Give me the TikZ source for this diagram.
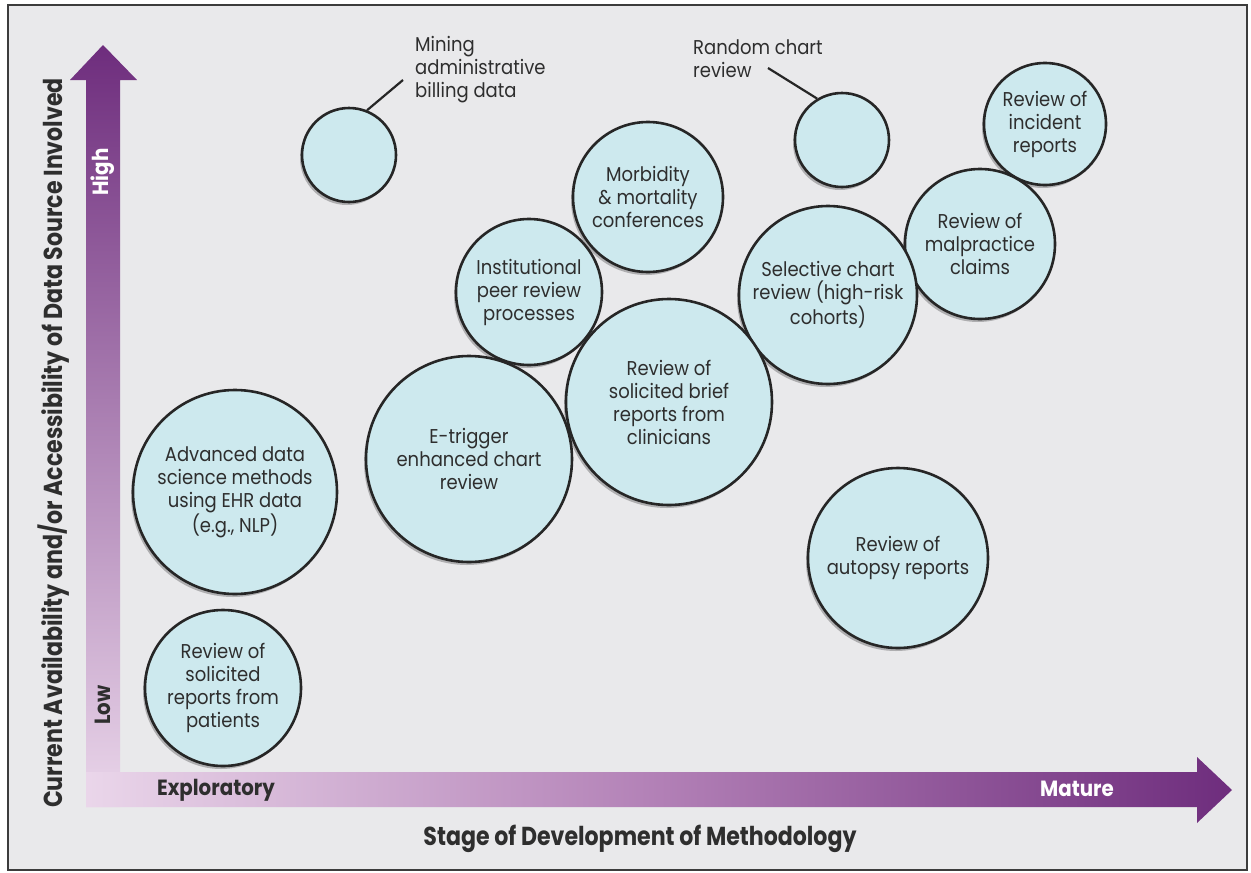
\documentclass[tikz,border=0pt]{standalone}
\usepackage{fontspec}
\setmainfont{Poppins}[FakeStretch=0.9]
\newfontfamily\titlefont{Poppins}[FakeStretch=0.85]
\usetikzlibrary{shadows}

\definecolor{bggray}{RGB}{233,233,235}
\definecolor{framegray}{RGB}{60,60,60}
\definecolor{bubblefill}{RGB}{205,233,238}
\definecolor{bubbleline}{RGB}{38,38,38}
\definecolor{inkgray}{RGB}{46,46,46}
\definecolor{plumdark}{RGB}{110,45,125}
\definecolor{plummid}{RGB}{178,128,182}
\definecolor{plumlight}{RGB}{234,214,234}

\begin{document}
\begin{tikzpicture}[x=1pt, y=-1pt,
    bubble/.style={circle, draw=bubbleline, line width=2.6pt, fill=bubblefill, text=inkgray,
        align=center, inner sep=0pt, font=\fontsize{20}{23}\selectfont,
        drop shadow={shadow xshift=-2pt, shadow yshift=-3pt, opacity=0.25, fill=black}},
    sidelabel/.style={anchor=north west, align=left, inner sep=0pt, text=inkgray,
        font=\fontsize{20}{23}\selectfont},
    axistitle/.style={inner sep=0pt, text=inkgray, font=\titlefont\bfseries\fontsize{26}{30}\selectfont},
    endlabel/.style={inner sep=0pt, font=\bfseries\fontsize{22}{26}\selectfont},
    leader/.style={draw=bubbleline, line width=2.2pt}]

    % Page and frame
    \useasboundingbox (0,0) rectangle (1251,873);
    \fill[white] (0,0) rectangle (1251,873);
    \draw[fill=bggray, draw=framegray, line width=2.5pt] (8,5) rectangle (1247,870);

    % Axes
    \shade[top color=plumdark, bottom color=plumlight]
        (86,807) -- (86,80) -- (70,80) -- (103,45) -- (137,80) -- (120,80) -- (120,807) -- cycle;
    \shade[left color=plumlight, right color=plumdark, middle color=plummid]
        (86,772) -- (1197,772) -- (1197,757) -- (1232,790) -- (1197,823) -- (1197,807) -- (86,807) -- cycle;

    \node[endlabel, text=white, rotate=90] (highlbl) at (103,172) {High};
    \node[endlabel, text=inkgray, rotate=90] (lowlbl) at (103,705) {Low};
    \node[endlabel, text=inkgray] (explbl) at (216,790) {Exploratory};
    \node[endlabel, text=white] (maturelbl) at (1077,789) {Mature};

    \node[axistitle, anchor=base] (xtitle) at (640,845) {Stage of Development of Methodology};
    \node[axistitle, anchor=base, rotate=90] (ytitle) at (62,443)
        {Current Availability and/or Accessibility of Data Source Involved};

    % Define nodes
    \node[bubble, minimum size=94pt] (mining) at (349,155) {};
    \node[bubble, minimum size=94pt] (random) at (842,140) {};
    \node[bubble, minimum size=122pt] (incident) at (1045,124) {Review of\\incident\\reports};
    \node[bubble, minimum size=150pt] (morbidity) at (648,197) {Morbidity\\\& mortality\\conferences};
    \node[bubble, minimum size=150pt] (malpractice) at (980,244) {Review of\\malpractice\\claims};
    \node[bubble, minimum size=146pt] (institutional) at (529,292) {Institutional\\peer review\\processes};
    \node[bubble, minimum size=178pt] (selective) at (828,295) {Selective chart\\review (high-risk\\cohorts)};
    \node[bubble, minimum size=206pt] (brief) at (669,402) {Review of\\solicited brief\\reports from\\clinicians};
    \node[bubble, minimum size=206pt] (etrigger) at (469,459) {E-trigger\\enhanced chart\\review};
    \node[bubble, minimum size=204pt] (advanced) at (235,492) {Advanced data\\science methods\\using EHR data\\(e.g., NLP)};
    \node[bubble, minimum size=180pt] (autopsy) at (898,558) {Review of\\autopsy reports};
    \node[bubble, minimum size=156pt] (patients) at (223,688) {Review of\\solicited\\reports from\\patients};

    \node[sidelabel] (mininglbl) at (415,36) {Mining\\administrative\\billing data};
    \node[sidelabel] (randomlbl) at (693,39) {Random chart\\review};

    % Draw edges
    \coordinate (minend) at (403,80);
    \coordinate (rndend) at (768,68);
    \draw[leader] (mining.68) -- (minend);
    \draw[leader] (random.121) -- (rndend);
\end{tikzpicture}
\end{document}
